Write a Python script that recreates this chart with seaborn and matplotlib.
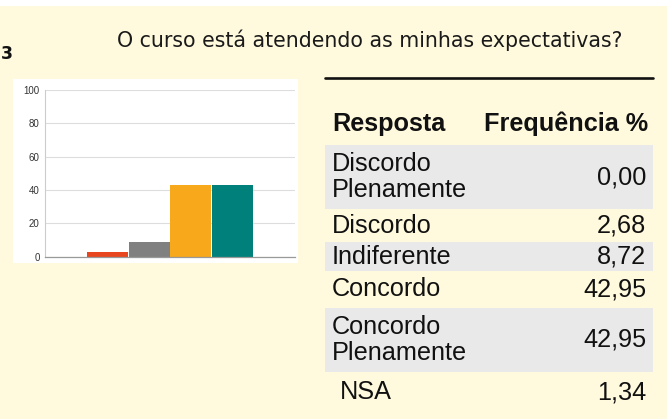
import matplotlib
matplotlib.use("Agg")
import matplotlib.pyplot as plt
import seaborn as sns
from matplotlib.patches import Rectangle
from matplotlib.lines import Line2D

# ---- data ----
title = "O curso está atendendo as minhas expectativas?"
chart_categories = ["Discordo Plenamente", "Discordo", "Indiferente", "Concordo", "Concordo Plenamente"]
chart_values = [0.00, 2.68, 8.72, 42.95, 42.95]
bar_colors = ["#E8461E", "#E8461E", "#808080", "#F7A81B", "#00807A"]
y_ticks = [0, 20, 40, 60, 80, 100]

table_header = ["Resposta", "Frequência %"]
respostas = ["Discordo\nPlenamente", "Discordo", "Indiferente", "Concordo", "Concordo\nPlenamente", "NSA"]
frequencias = ["0,00", "2,68", "8,72", "42,95", "42,95", "1,34"]

# ---- figure ----
W, H = 667, 419
BG = "#FFFADD"
sns.set_theme(style="white")
plt.rcParams["font.family"] = ["DejaVu Sans"]
fig = plt.figure(figsize=(W / 100, H / 100), dpi=100, facecolor=BG)

def fx(x):
    return x / W

def fy(y):
    return 1 - y / H

# white strip at top
fig.patches.append(Rectangle((0, fy(6)), 1, 6 / H, transform=fig.transFigure,
                             facecolor="white", edgecolor="none", zorder=-5))
# white chart panel
fig.patches.append(Rectangle((fx(13), fy(263)), (298 - 13) / W, (263 - 79) / H,
                             transform=fig.transFigure, facecolor="white",
                             edgecolor="none", zorder=-5))

# title
fig.text(fx(370), fy(40), title, ha="center", va="center", fontsize=14.8,
         color="#1a1a1a", family="DejaVu Sans")
fig.text(fx(0.5), fy(54), "3", ha="left", va="center", fontsize=12.5,
         fontweight="bold", color="#111111")

# ---- bar chart ----
ax = fig.add_axes([fx(45), fy(256.7), (295 - 45) / W, (256.7 - 90) / H])
ax.set_zorder(2)
ax.set_facecolor("white")
palette = {c: col for c, col in zip(chart_categories, bar_colors)}
sns.barplot(x=chart_categories, y=chart_values, hue=chart_categories,
            palette=palette, width=0.98, saturation=1, legend=False, ax=ax,
            linewidth=0, order=chart_categories)
ax.set_xlim(-0.5, 5.5)
ax.set_ylim(0, 100)
ax.set_yticks(y_ticks)
ax.set_yticklabels([str(t) for t in y_ticks], fontsize=7, color="#333333",
                   family="Liberation Sans")
ax.tick_params(axis="y", length=0, pad=3.8)
ax.set_xticks([])
ax.set_xlabel("")
ax.set_ylabel("")
ax.yaxis.grid(True, color="#DDDDDD", linewidth=0.8)
ax.set_axisbelow(True)
for s in ["top", "right"]:
    ax.spines[s].set_visible(False)
ax.spines["left"].set_color("#CCCCCC")
ax.spines["left"].set_linewidth(0.8)
ax.spines["bottom"].set_color("#999999")
ax.spines["bottom"].set_linewidth(0.9)

# ---- table ----
fig.lines.append(Line2D([fx(325), fx(653)], [fy(78), fy(78)], transform=fig.transFigure,
                        color="#111111", linewidth=1.9))

tfont = dict(family="Liberation Sans", fontsize=18.2, color="#111111")
fig.text(fx(332), fy(124), table_header[0], ha="left", va="center",
         fontweight="bold", **tfont)
fig.text(fx(648), fy(124), table_header[1], ha="right", va="center",
         fontweight="bold", **tfont)

row_bounds = [(145, 209), (209, 242), (242, 271), (271, 308), (308, 372), (372, 412)]
for i, ((y0, y1), r, f) in enumerate(zip(row_bounds, respostas, frequencias)):
    if i % 2 == 0:
        fig.patches.append(Rectangle((fx(325), fy(y1)), (653 - 325) / W, (y1 - y0) / H,
                                     transform=fig.transFigure, facecolor="#E9E9E9",
                                     edgecolor="none", zorder=-5))
    yc = (y0 + y1) / 2
    xl = 340 if r == "NSA" else 332
    fig.text(fx(xl), fy(yc), r, ha="left", va="center", linespacing=1.15, **tfont)
    fig.text(fx(646), fy(yc), f, ha="right", va="center", **tfont)

fig.savefig("out.png", dpi=100, facecolor=BG)
